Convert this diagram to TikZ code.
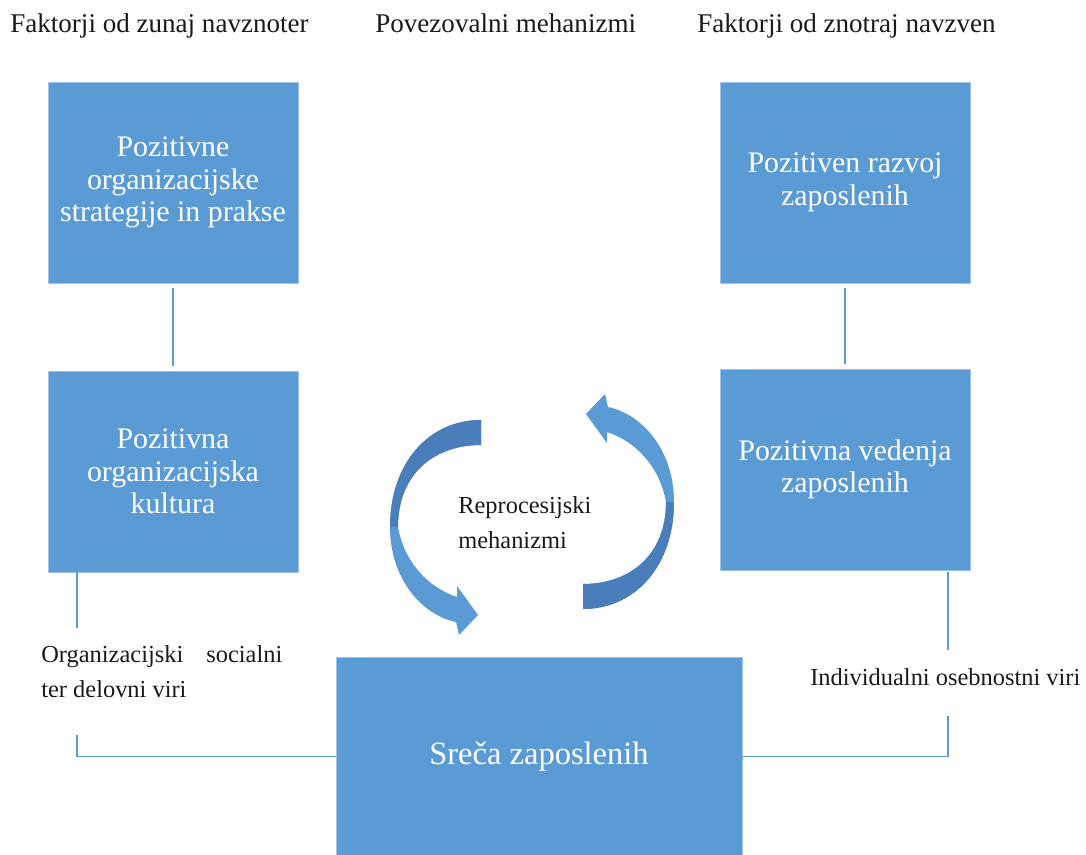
\documentclass[tikz,border=0pt]{standalone}
\usepackage{fontspec}
\setmainfont{Liberation Serif}
\definecolor{boxblue}{HTML}{5B9BD5}
\definecolor{boxedge}{HTML}{9DC3E6}
\definecolor{darkblue}{HTML}{4A7EBB}
\definecolor{txt}{HTML}{1A1A1A}
\begin{document}
\begin{tikzpicture}[x=0.02cm,y=-0.02cm,
  blockbox/.style={fill=boxblue,draw=boxedge,line width=0.5pt,inner sep=0pt,outer sep=0pt,
    minimum width=5cm,minimum height=4.02cm,text=white,align=center,
    font=\fontsize{17}{18.5}\selectfont},
  conn/.style={draw=boxblue,line width=0.9pt},
  hdr/.style={anchor=base west,inner sep=0pt,text=txt,font=\fontsize{15.4}{18}\selectfont},
  lbl/.style={anchor=base west,inner sep=0pt,text=txt,font=\fontsize{13.9}{18}\selectfont},
  lightpart/.style={fill=boxblue},
  darkpart/.style={fill=darkblue}]
\useasboundingbox (0,0) rectangle (1086,855);
\fill[white] (0,0) rectangle (1086,855);

% headers
\node[hdr] (h1) at (10,33) {Faktorji od zunaj navznoter};
\node[hdr] (h2) at (375,33) {Povezovalni mehanizmi};
\node[hdr] (h3) at (697,33) {Faktorji od znotraj navzven};

% boxes
\node[blockbox] (A) at (173,182.5) {Pozitivne\\organizacijske\\strategije in prakse};
\node[blockbox] (B) at (173,471.5) {Pozitivna\\organizacijska\\kultura};
\node[blockbox] (C) at (845,182.5) {Pozitiven razvoj\\zaposlenih};
\node[blockbox] (D) at (845,469.5) {Pozitivna vedenja\\zaposlenih};
\node[blockbox,minimum width=8.12cm,minimum height=3.98cm,font=\fontsize{18.5}{20}\selectfont] (E) at (539,756.5) {Sreča zaposlenih};

% connectors
\draw[conn,shorten <=0.1cm,shorten >=0.1cm] (A) -- (B);
\draw[conn,shorten <=0.1cm,shorten >=0.1cm] (C) -- (D);
\coordinate (lt) at (77,628);
\coordinate (lb) at (77,735);
\draw[conn] (B.south west -| lt) -- (lt);
\draw[conn] (lb) |- (E.west);
\coordinate (rt) at (948,650);
\coordinate (rb) at (948,716);
\draw[conn,shorten <=0.05cm] (D.south -| rt) -- (rt);
\draw[conn] (rb) |- (E.east);

% side labels
\node[lbl] (org1) at (41,662) {\makebox[4.82cm][s]{Organizacijski socialni}};
\node[lbl] (org2) at (41,697) {ter delovni viri};
\node[lbl] (ind) at (810,685) {Individualni osebnostni viri};

% circular arrows
\def\arrowshape{%
\fill[lightpart] (583,609) .. controls (636,609) and (674,565) .. (674,502)
  .. controls (674,450) and (642,414) .. (608,407) -- (605,394) -- (586,414)
  -- (607,443) -- (607,432) .. controls (637,442) and (660,468) .. (666,502)
  .. controls (666,555) and (630,584) .. (583,584) -- cycle;
\fill[darkpart] (674,502) .. controls (674,565) and (636,609) .. (583,609)
  -- (583,584) .. controls (630,584) and (666,555) .. (666,502) -- cycle;}
\begin{scope}
\arrowshape
\end{scope}
\begin{scope}[rotate around={180:(532,514.5)}]
\arrowshape
\end{scope}

% centre label
\node[lbl] (rep1) at (458,513) {Reprocesijski};
\node[lbl] (rep2) at (458,548) {mehanizmi};
\end{tikzpicture}
\end{document}
